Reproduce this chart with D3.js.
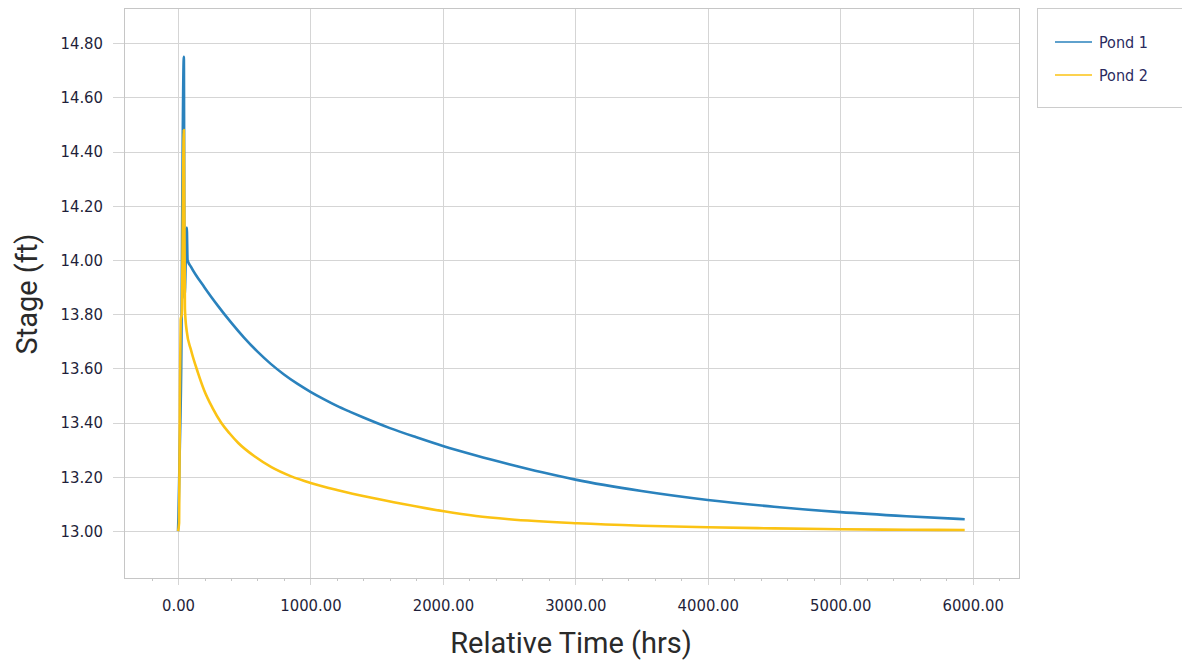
<!DOCTYPE html>
<html>
<head>
<meta charset="utf-8">
<script src="https://cdn.jsdelivr.net/npm/d3@7"></script>
<style>
  html, body { margin: 0; padding: 0; background: #ffffff; }
  svg { display: block; }
  .tick-label { font-family: "DejaVu Sans Condensed", "DejaVu Sans", sans-serif; font-size: 16.5px; fill: #1f1f3a; }
  .axis-title { font-family: Roboto, "Open Sans", sans-serif; font-size: 29px; fill: #2a2a2a; }
  .legend-label { font-family: "DejaVu Sans Condensed", "DejaVu Sans", sans-serif; font-size: 16px; fill: #2a2a5e; }
</style>
</head>
<body>
<svg id="chart" width="1182" height="664"></svg>
<script>
// Stage hydrographs (hours since start of event, stage in feet)
const pond1Time  = [0, 3, 12, 16, 26, 30, 44, 49, 66, 72, 98, 200, 300, 400, 500, 600, 700, 800, 900, 1000, 1100, 1200, 1300, 1400, 1600, 1800, 2000, 2250, 2500, 2750, 3000, 3500, 4000, 4500, 5000, 5500, 5940];
const pond1Stage = [13.00, 13.05, 13.28, 13.37, 13.72, 14.05, 14.75, 13.86, 14.12, 14.00, 13.975, 13.899, 13.832, 13.770, 13.713, 13.662, 13.617, 13.578, 13.544, 13.514, 13.487, 13.462, 13.440, 13.419, 13.380, 13.346, 13.314, 13.279, 13.247, 13.217, 13.190, 13.148, 13.115, 13.090, 13.070, 13.055, 13.044];

const pond2Time  = [0, 8, 14, 20, 28, 44, 52, 65, 98, 150, 197, 260, 326, 390, 455, 580, 705, 850, 1008, 1200, 1462, 1700, 2008, 2250, 2500, 3015, 3500, 4000, 4500, 5000, 5500, 5940];
const pond2Stage = [13.00, 13.03, 13.50, 13.78, 13.80, 14.48, 13.82, 13.74, 13.668, 13.585, 13.52, 13.455, 13.40, 13.36, 13.325, 13.275, 13.236, 13.203, 13.177, 13.152, 13.123, 13.100, 13.073, 13.056, 13.044, 13.029, 13.020, 13.014, 13.010, 13.007, 13.005, 13.004];

const seriesNames  = ["Pond 1", "Pond 2"];
const seriesColors = ["#2a82bd", "#fbc314"];

const xTicks = [0, 1000, 2000, 3000, 4000, 5000, 6000];
const yTicks = [13.0, 13.2, 13.4, 13.6, 13.8, 14.0, 14.2, 14.4, 14.6, 14.8];
const xMinorStep = 200;

const xTitle = "Relative Time (hrs)";
const yTitle = "Stage (ft)";

// ---- layout ----
const svg = d3.select("#chart");
const plot = { left: 124, right: 1019, top: 8, bottom: 578 };

const x = d3.scaleLinear().domain([-408, 6350]).range([plot.left, plot.right]);
const y = d3.scaleLinear().domain([12.827, 14.93]).range([plot.bottom, plot.top]);

const fmt = d3.format(".2f");
const gridColor = "#d5d5d5";
const borderColor = "#c6c6c6";

// vertical grid lines with outward major ticks
const xGrid = svg.append("g")
  .attr("transform", `translate(0,${plot.bottom + 7})`)
  .call(d3.axisBottom(x).tickValues(xTicks).tickSize(-(plot.bottom - plot.top + 7)).tickFormat(""));
xGrid.select(".domain").remove();
xGrid.selectAll("line").attr("stroke", gridColor).attr("shape-rendering", "crispEdges");

// horizontal grid lines with outward major ticks
const yGrid = svg.append("g")
  .attr("transform", `translate(${plot.left - 11},0)`)
  .call(d3.axisLeft(y).tickValues(yTicks).tickSize(-(plot.right - plot.left + 11)).tickFormat(""));
yGrid.select(".domain").remove();
yGrid.selectAll("line").attr("stroke", gridColor).attr("shape-rendering", "crispEdges");

// minor ticks along the time axis
const minorVals = d3.range(-200, 6201, xMinorStep).filter(v => !xTicks.includes(v));
const xMinor = svg.append("g")
  .attr("transform", `translate(0,${plot.bottom})`)
  .call(d3.axisBottom(x).tickValues(minorVals).tickSize(3).tickFormat(""));
xMinor.select(".domain").remove();
xMinor.selectAll("line").attr("stroke", borderColor).attr("shape-rendering", "crispEdges");

// plot border
svg.append("rect")
  .attr("x", plot.left).attr("y", plot.top)
  .attr("width", plot.right - plot.left).attr("height", plot.bottom - plot.top)
  .attr("fill", "none").attr("stroke", borderColor).attr("shape-rendering", "crispEdges");

// tick labels
const xLabels = svg.append("g")
  .attr("transform", `translate(0,${plot.bottom + 7})`)
  .call(d3.axisBottom(x).tickValues(xTicks).tickSize(0).tickPadding(14).tickFormat(fmt));
xLabels.select(".domain").remove();
xLabels.selectAll("text").attr("class", "tick-label").attr("fill", null);

const yLabels = svg.append("g")
  .attr("transform", `translate(${plot.left - 11},0)`)
  .call(d3.axisLeft(y).tickValues(yTicks).tickSize(0).tickPadding(10).tickFormat(fmt));
yLabels.select(".domain").remove();
yLabels.selectAll("text").attr("class", "tick-label").attr("fill", null);

// axis titles
svg.append("text").attr("class", "axis-title")
  .attr("x", 571).attr("y", 653).attr("text-anchor", "middle")
  .text(xTitle);
svg.append("text").attr("class", "axis-title")
  .attr("transform", "translate(37,294) rotate(-90)").attr("text-anchor", "middle")
  .text(yTitle);

// series lines
const series = [
  { name: seriesNames[0], color: seriesColors[0], pts: pond1Time.map((t, i) => [t, pond1Stage[i]]) },
  { name: seriesNames[1], color: seriesColors[1], pts: pond2Time.map((t, i) => [t, pond2Stage[i]]) }
];
const line = d3.line().x(d => x(d[0])).y(d => y(d[1])).curve(d3.curveMonotoneX);
svg.append("g").selectAll("path").data(series).join("path")
  .attr("d", d => line(d.pts))
  .attr("fill", "none")
  .attr("stroke", d => d.color)
  .attr("stroke-width", 2.6)
  .attr("stroke-linejoin", "round");

// legend
const legend = svg.append("g");
legend.append("rect")
  .attr("x", 1037).attr("y", 8).attr("width", 170).attr("height", 99)
  .attr("fill", "#ffffff").attr("stroke", "#cccccc").attr("shape-rendering", "crispEdges");
const items = legend.selectAll("g.item").data(series).join("g")
  .attr("class", "item")
  .attr("transform", (d, i) => `translate(1055,${42 + i * 33})`);
items.append("line").attr("x1", 0).attr("x2", 37).attr("y1", 0).attr("y2", 0)
  .attr("stroke", d => d.color).attr("stroke-width", 1.5);
items.append("text").attr("class", "legend-label")
  .attr("x", 44).attr("y", 0).attr("dy", "0.35em")
  .text(d => d.name);
</script>
</body>
</html>
